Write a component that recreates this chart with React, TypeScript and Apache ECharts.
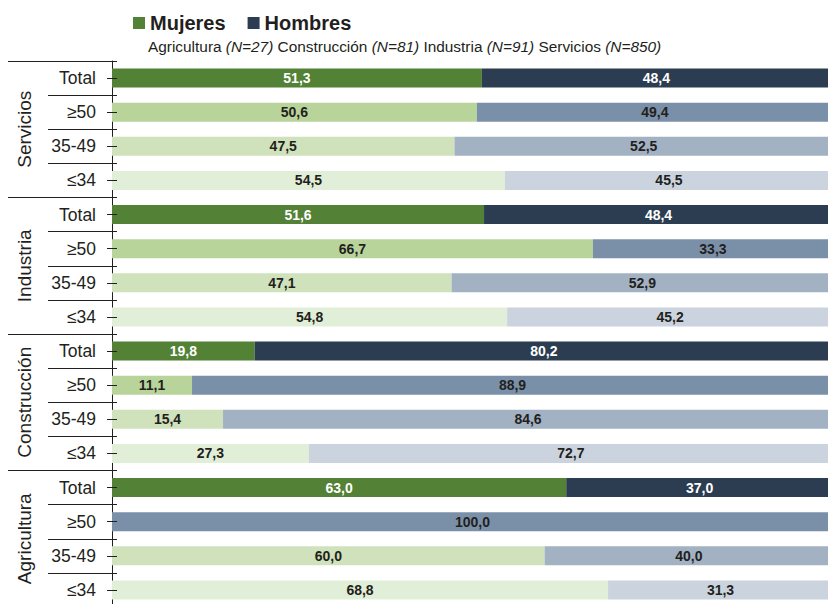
import React, { useEffect, useRef } from "react";
import * as echarts from "echarts";

const groups = ["Servicios", "Industria", "Construcción", "Agricultura"];
const ageBands = ["Total", "≥50", "35-49", "≤34"];
const rowKeys = groups.flatMap((g) => ageBands.map((a) => `${g}|${a}`));

const mujeres = [
  51.3, 50.6, 47.5, 54.5,
  51.6, 66.7, 47.1, 54.8,
  19.8, 11.1, 15.4, 27.3,
  63.0, 0, 60.0, 68.8,
];
const hombres = [
  48.4, 49.4, 52.5, 45.5,
  48.4, 33.3, 52.9, 45.2,
  80.2, 88.9, 84.6, 72.7,
  37.0, 100.0, 40.0, 31.3,
];

const mujeresColors = ["#538135", "#b9d49b", "#cfe2bb", "#e2efd8"];
const hombresColors = ["#2d3d51", "#7a90a8", "#a2b2c3", "#cbd4de"];

const FONT = "'Liberation Sans', Arial, Helvetica, sans-serif";
const INK = "#231f20";

const fmt = (p: any) => (p.value ? Number(p.value).toFixed(1).replace(".", ",") : "");

function buildData(vals: number[], colors: string[]) {
  return vals.map((v, i) => ({
    value: v,
    itemStyle: { color: colors[i % 4] },
    label: { color: i % 4 === 0 ? "#ffffff" : INK },
  }));
}

export default function App() {
  const ref = useRef<HTMLDivElement>(null);
  useEffect(() => {
    document.body.style.margin = "0";
    if (!ref.current) return;
    const chart = echarts.init(ref.current, undefined, { renderer: "svg" });
    const tickLine = { color: INK, width: 1 };
    const hiddenAxis = (extra: any) => ({
      type: "category",
      data: rowKeys,
      inverse: true,
      position: "left",
      offset: 0,
      axisLine: { show: false },
      axisLabel: { show: false },
      splitLine: { show: false },
      ...extra,
    });
    chart.setOption({
      animation: false,
      backgroundColor: "#ffffff",
      textStyle: { fontFamily: FONT },
      title: {
        left: 143,
        top: 34,
        text:
          "Agricultura {i|(N=27)} Construcción {i|(N=81)} Industria {i|(N=91)} Servicios {i|(N=850)}",
        textStyle: {
          fontSize: 15.4,
          fontWeight: "normal",
          color: INK,
          fontFamily: FONT,
          rich: {
            i: { fontStyle: "italic", fontSize: 15.4, color: INK, fontFamily: FONT },
          },
        },
      },
      legend: {
        left: 128,
        top: 8,
        icon: "rect",
        itemWidth: 12,
        itemHeight: 12,
        itemGap: 22,
        textStyle: { fontSize: 20, fontWeight: "bold", color: INK, fontFamily: FONT },
        data: ["Mujeres", "Hombres"],
      },
      grid: { left: 112, top: 61, width: 721, height: 546, containLabel: false, outerBoundsMode: "none" },
      xAxis: { type: "value", min: 0, max: 100, show: false },
      yAxis: [
        {
          type: "category",
          data: rowKeys,
          inverse: true,
          position: "left",
          offset: 0,
          axisLine: { show: true, lineStyle: tickLine },
          axisTick: { show: true, alignWithLabel: true, length: 5, lineStyle: tickLine },
          axisLabel: {
            interval: 0,
            margin: 16,
            fontSize: 17.5,
            color: INK,
            fontFamily: FONT,
            formatter: (v: string) => v.split("|")[1],
          },
          splitLine: { show: false },
        },
        hiddenAxis({
          z: 5,
          axisTick: { show: true, alignWithLabel: true, inside: true, length: 5, lineStyle: tickLine },
        }),
        hiddenAxis({
          axisTick: { show: true, alignWithLabel: false, length: 64, lineStyle: tickLine },
        }),
        hiddenAxis({
          z: 5,
          axisTick: { show: true, alignWithLabel: false, inside: true, length: 5, lineStyle: tickLine },
        }),
        {
          type: "category",
          data: groups,
          inverse: true,
          position: "left",
          offset: 0,
          axisLine: { show: false },
          axisTick: { show: true, alignWithLabel: false, length: 104, lineStyle: tickLine },
          axisLabel: {
            interval: 0,
            rotate: 90,
            margin: 78,
            fontSize: 19,
            color: INK,
            fontFamily: FONT,
          },
          splitLine: { show: false },
        },
      ],
      series: [
        {
          name: "Mujeres",
          type: "bar",
          stack: "total",
          yAxisIndex: 0,
          barWidth: 19,
          itemStyle: { color: mujeresColors[0] },
          label: { show: true, position: "inside", fontSize: 14, fontWeight: "bold", fontFamily: FONT, formatter: fmt },
          data: buildData(mujeres, mujeresColors),
        },
        {
          name: "Hombres",
          type: "bar",
          stack: "total",
          yAxisIndex: 0,
          barWidth: 19,
          itemStyle: { color: hombresColors[0] },
          label: { show: true, position: "inside", fontSize: 14, fontWeight: "bold", fontFamily: FONT, formatter: fmt },
          data: buildData(hombres, hombresColors),
        },
      ],
    });
    return () => chart.dispose();
  }, []);
  return <div ref={ref} style={{ width: 828, height: 604 }} />;
}
